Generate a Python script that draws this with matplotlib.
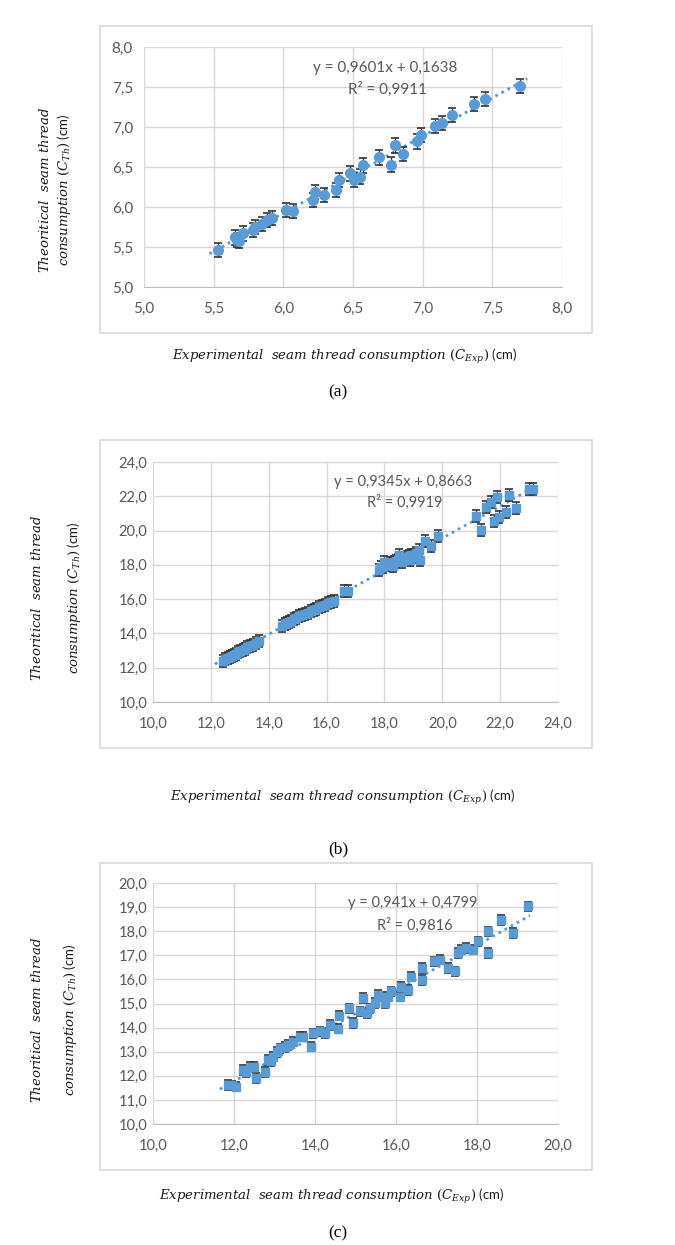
import matplotlib
matplotlib.use('Agg')
import matplotlib.pyplot as plt
from matplotlib.ticker import FuncFormatter, MultipleLocator
from matplotlib.patches import Rectangle
import numpy as np

# panel (a)
a_x = [5.53, 5.65, 5.67, 5.68, 5.71, 5.78, 5.80, 5.85, 5.88, 5.92,
       6.02, 6.07, 6.21, 6.23, 6.29, 6.38, 6.40, 6.48, 6.51, 6.55, 6.57,
       6.69, 6.77, 6.80, 6.86, 6.96, 6.99, 7.09, 7.14, 7.21, 7.37, 7.45, 7.70]
a_y = [5.46, 5.62, 5.59, 5.58, 5.67, 5.71, 5.75, 5.79, 5.84, 5.86,
       5.96, 5.95, 6.09, 6.19, 6.15, 6.21, 6.34, 6.42, 6.34, 6.38, 6.52,
       6.62, 6.53, 6.77, 6.66, 6.82, 6.90, 7.01, 7.05, 7.15, 7.29, 7.35, 7.51]
a_err = 0.09
a_fit = (0.9601, 0.1638)
a_eq = ['y = 0,9601x + 0,1638', 'R² = 0,9911']

# panel (b)
b_x = [12.42, 12.50, 12.58, 12.65, 12.72, 12.80, 12.88, 12.95, 13.02, 13.10,
       13.18, 13.26, 13.35, 13.45, 13.55, 13.65,
       14.45, 14.55, 14.62, 14.70, 14.78, 14.86, 14.95, 15.05, 15.15, 15.25,
       15.35, 15.45, 15.55, 15.65, 15.75, 15.85, 15.95, 16.05, 16.15, 16.25,
       16.60, 16.75,
       17.80, 17.88, 17.95, 18.02, 18.10, 18.18, 18.25, 18.32, 18.40, 18.48,
       18.55, 18.62, 18.70, 18.78, 18.85, 18.92, 19.00, 19.10, 19.20, 19.22,
       18.30, 18.60, 18.90, 19.15, 18.00, 18.50,
       19.40, 19.60, 19.85, 21.15, 21.35, 21.50, 21.70, 21.90, 21.80, 21.95,
       22.20, 22.30, 22.55, 23.00, 23.15]
b_y = [12.40, 12.48, 12.55, 12.62, 12.70, 12.76, 12.82, 12.90, 12.95, 13.02,
       13.10, 13.18, 13.25, 13.32, 13.45, 13.55,
       14.42, 14.55, 14.62, 14.68, 14.75, 14.82, 14.90, 15.00, 15.08, 15.15,
       15.22, 15.30, 15.38, 15.45, 15.52, 15.60, 15.68, 15.75, 15.82, 15.92,
       16.45, 16.50,
       17.72, 17.85, 17.90, 17.98, 18.02, 18.08, 18.12, 18.18, 18.22, 18.28,
       18.32, 18.38, 18.42, 18.48, 18.52, 18.55, 18.60, 18.68, 18.85, 18.30,
       17.95, 18.15, 18.30, 18.45, 18.15, 18.55,
       19.40, 19.10, 19.70, 20.85, 20.05, 21.40, 21.65, 21.95, 20.55, 20.80,
       21.10, 22.05, 21.30, 22.45, 22.45]
b_err = 0.35
b_fit = (0.9345, 0.8663)
b_eq = ['y = 0,9345x + 0,8663', 'R² = 0,9919']

# panel (c)
c_x = [11.85, 11.95, 12.06, 12.22, 12.30, 12.39, 12.50, 12.55, 12.76, 12.84,
       12.92, 12.96, 13.05, 13.13, 13.25, 13.33, 13.46, 13.62, 13.70, 13.91,
       13.95, 14.12, 14.24, 14.36, 14.57, 14.59, 14.84, 14.94, 15.10, 15.19,
       15.28, 15.35, 15.47, 15.55, 15.64, 15.72, 15.80, 15.88, 16.09, 16.13,
       16.30, 16.38, 16.63, 16.63, 16.95, 17.08, 17.28, 17.45, 17.53, 17.61,
       17.74, 17.90, 18.02, 18.27, 18.27, 18.60, 18.89, 19.26]
c_y = [11.62, 11.60, 11.55, 12.24, 12.15, 12.38, 12.38, 11.90, 12.17, 12.66,
       12.60, 12.80, 13.00, 13.14, 13.20, 13.28, 13.42, 13.63, 13.63, 13.21,
       13.76, 13.84, 13.77, 14.10, 13.96, 14.50, 14.80, 14.18, 14.67, 15.22,
       14.60, 14.80, 15.01, 15.36, 15.29, 15.01, 15.29, 15.50, 15.29, 15.70,
       15.57, 16.12, 15.98, 16.47, 16.75, 16.82, 16.47, 16.33, 17.10, 17.24,
       17.30, 17.24, 17.58, 17.99, 17.10, 18.47, 17.92, 19.03]
c_err = 0.2
c_fit = (0.941, 0.4799)
c_eq = ['y = 0,941x + 0,4799', 'R² = 0,9816']

W, H = 675, 1245
blue = '#5b9bd5'
grid_c = '#dcd6d2'
txt_c = '#595959'

fig = plt.figure(figsize=(W / 100, H / 100), dpi=100)
fig.patch.set_facecolor('white')

def px(l, t, r, b):
    return [l / W, 1 - b / H, (r - l) / W, (b - t) / H]

comma = FuncFormatter(lambda v, p: f'{v:.1f}'.replace('.', ','))

xlab = r'$\mathit{Experimental\ \ seam\ thread\ consumption\ (C_{Exp})}$ (cm)'
ylab1 = r'$\mathit{Theoritical\ \ seam\ thread}$'
ylab2 = r'$\mathit{consumption\ (C_{Th})}$ (cm)'
plt.rcParams['mathtext.fontset'] = 'dejavuserif'

panels = [
    dict(x=a_x, y=a_y, err=a_err, fit=a_fit, eq=a_eq, marker='o', ms=7,
         ax=(144, 47, 562, 287), frame=(100, 26, 592, 333), lim=(5, 8), step=0.5,
         ypad=8, fs=11, eqpos=(385, 68, 388, 89), xl=(345, 357),
         yl=(45, 64, 190), cap=('(a)', 338, 392)),
    dict(x=b_x, y=b_y, err=b_err, fit=b_fit, eq=b_eq, marker='s', ms=5.5,
         ax=(153, 462, 558, 702), frame=(100, 440, 592, 748), lim=(10, 24), step=2,
         ypad=4, fs=10.5, eqpos=(403, 482, 405, 502), xl=(343, 797),
         yl=(37, 74, 598), cap=('(b)', 338, 849)),
    dict(x=c_x, y=c_y, err=c_err, fit=c_fit, eq=c_eq, marker='s', ms=5.5,
         ax=(153, 883, 558, 1124), frame=(100, 863, 592, 1170), lim=(10, 20),
         step=2, ystep=1, ypad=4, fs=10.5, eqpos=(413, 903, 415, 925),
         xl=(332, 1197), yl=(37, 70, 1020), cap=('(c)', 338, 1233)),
]

for p in panels:
    l, t, r, b = p['frame']
    fig.patches.append(Rectangle((l / W, 1 - b / H), (r - l) / W, (b - t) / H,
                                 transform=fig.transFigure, fill=False,
                                 edgecolor='#d9d9d9', lw=1.2))
    ax = fig.add_axes(px(*p['ax']))
    x = np.array(p['x'])
    y = np.array(p['y'])
    ax.errorbar(x, y, yerr=p['err'], fmt=p['marker'], ms=p['ms'], color=blue,
                mec=blue, ecolor='#333333', elinewidth=0.9, capsize=3,
                capthick=1.2, zorder=3)
    xs = np.array([x.min() - 0.05 * (p['lim'][1] - p['lim'][0]) * 0.4, x.max() + 0.05])
    m, c = p['fit']
    ax.plot(xs, m * xs + c, ls=(0, (1, 1.5)), color=blue, lw=2, zorder=2)
    ax.set_xlim(*p['lim'])
    ax.set_ylim(*p['lim'])
    ax.xaxis.set_major_locator(MultipleLocator(p['step']))
    ax.yaxis.set_major_locator(MultipleLocator(p.get('ystep', p['step'])))
    ax.xaxis.set_major_formatter(comma)
    ax.yaxis.set_major_formatter(comma)
    ax.grid(True, color=grid_c, lw=1)
    ax.set_axisbelow(True)
    for s in ['top', 'right', 'left']:
        ax.spines[s].set_visible(False)
    ax.spines['bottom'].set_color('#bfbfbf')
    ax.tick_params(length=0, labelcolor=txt_c, labelsize=p['fs'])
    ax.tick_params(axis='y', pad=p['ypad'])
    ax.tick_params(axis='x', pad=11)
    for lab in ax.get_xticklabels() + ax.get_yticklabels():
        lab.set_fontfamily('Lato')
    ex, ey, rx, ry = p['eqpos']
    fig.text(ex / W, 1 - ey / H, p['eq'][0], ha='center', va='center',
             color=txt_c, fontsize=p['fs'], family='Lato')
    fig.text(rx / W, 1 - ry / H, p['eq'][1], ha='center', va='center',
             color=txt_c, fontsize=p['fs'], family='Lato')
    fig.text(p['xl'][0] / W, 1 - p['xl'][1] / H, xlab, ha='center', va='center',
             fontsize=9.5, color='#1a1a1a', family='Lato')
    fig.text(p['yl'][0] / W, 1 - p['yl'][2] / H, ylab1, rotation=90,
             ha='center', va='center', fontsize=9.5, color='#1a1a1a')
    fig.text(p['yl'][1] / W, 1 - p['yl'][2] / H, ylab2, rotation=90,
             ha='center', va='center', fontsize=9.5, color='#1a1a1a', family='Lato')
    fig.text(p['cap'][1] / W, 1 - p['cap'][2] / H, p['cap'][0], ha='center',
             va='center', fontsize=12.5, family='Liberation Serif')

fig.savefig('out.png', dpi=100, facecolor='white')
